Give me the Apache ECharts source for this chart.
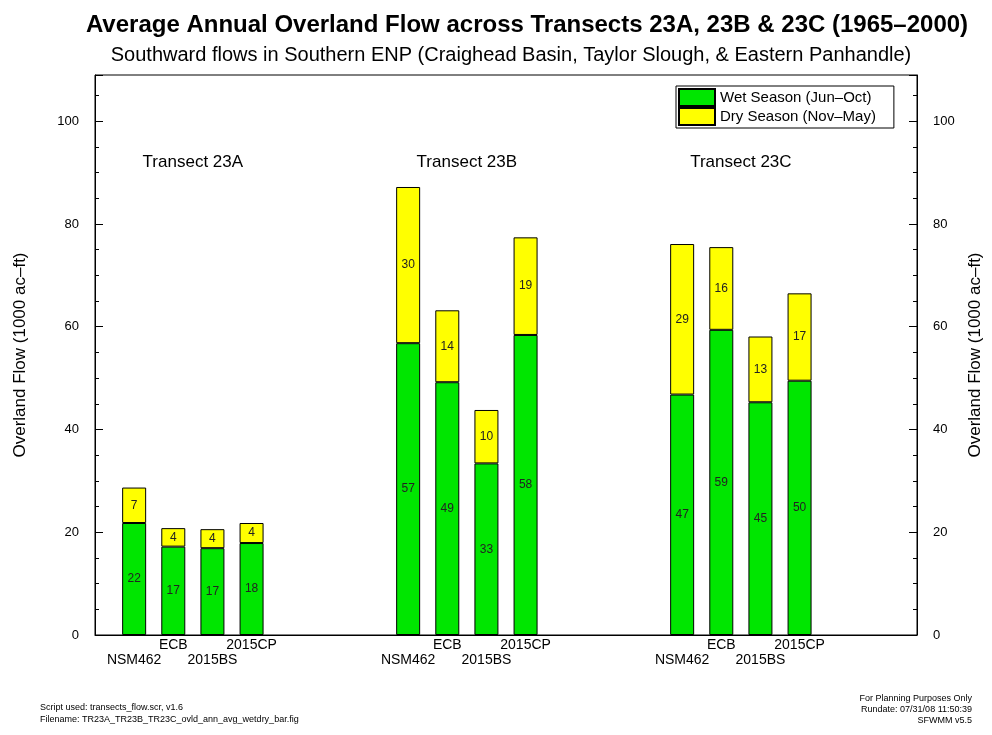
<!DOCTYPE html>
<html>
<head>
<meta charset="utf-8">
<script src="https://cdn.jsdelivr.net/npm/echarts@6/dist/echarts.min.js"></script>
<style>
  html, body { margin: 0; padding: 0; background: #fff; }
  #chart { width: 992px; height: 735px; }
</style>
</head>
<body>
<div id="chart"></div>
<script>
// station names under each bar
const stations = ['NSM462', 'ECB', '2015BS', '2015CP']
const transects = ['Transect 23A', 'Transect 23B', 'Transect 23C']

// average annual flows (1000 ac-ft), per transect, per station
const wet23A = [21.8, 17.2, 16.9, 17.9]
const dry23A = [6.9, 3.6, 3.7, 3.9]
const wet23B = [56.8, 49.2, 33.4, 58.4]
const dry23B = [30.4, 14.0, 10.4, 19.0]
const wet23C = [46.8, 59.4, 45.3, 49.5]
const dry23C = [29.3, 16.1, 12.8, 17.0]

const yTicks = [0, 20, 40, 60, 80, 100]

// slots on the x axis: bars sit at 1-4, 8-11, 15-18
const groupStart = [1, 8, 15]
const slotCount = 22

const slots = Array.from({ length: slotCount }, () => '')
const wetData = Array.from({ length: slotCount }, () => '-')
const dryData = Array.from({ length: slotCount }, () => '-')
const wetGroups = [wet23A, wet23B, wet23C]
const dryGroups = [dry23A, dry23B, dry23C]
groupStart.forEach((s, g) => {
  stations.forEach((name, i) => {
    slots[s + i] = (i % 2 === 0 ? '\n' : '') + name
    wetData[s + i] = wetGroups[g][i]
    dryData[s + i] = dryGroups[g][i]
  })
})

const font = '"Liberation Sans", Arial, sans-serif'

const chart = echarts.init(document.getElementById('chart'))

const yAxisBase = {
  type: 'value',
  min: 0,
  max: 109,
  interval: 20,
  name: 'Overland Flow (1000 ac\u2013ft)',
  nameLocation: 'middle',
  nameTextStyle: { fontSize: 17, color: '#000', fontFamily: font },
  axisLine: { show: true, lineStyle: { color: '#000' } },
  axisTick: { show: true, inside: true, length: 8, lineStyle: { color: '#000' } },
  minorTick: { show: true, splitNumber: 4, length: 4, lineStyle: { color: '#000' } },
  splitLine: { show: false },
  axisLabel: {
    margin: 16,
    fontSize: 13,
    color: '#000',
    fontFamily: font,
    formatter: (v) => (yTicks.includes(v) ? String(v) : ''),
  },
}

const segLabel = {
  show: true,
  position: 'inside',
  fontSize: 12,
  color: '#222',
  fontFamily: font,
  formatter: (p) => Math.round(p.value),
}

chart.setOption({
  animation: false,
  backgroundColor: '#fff',
  title: [
    {
      text: 'Average Annual Overland Flow across Transects 23A, 23B & 23C (1965\u20132000)',
      left: 522,
      top: 8,
      textAlign: 'center',
      textStyle: { fontSize: 24, fontWeight: 'bold', color: '#000', fontFamily: font },
    },
    {
      text: 'Southward flows in Southern ENP (Craighead Basin, Taylor Slough, & Eastern Panhandle)',
      left: 506,
      top: 40,
      textAlign: 'center',
      textStyle: { fontSize: 20, fontWeight: 'normal', color: '#000', fontFamily: font },
    },
  ],
  legend: {
    orient: 'vertical',
    left: 676,
    top: 86,
    padding: [2, 18, 2, 2],
    itemGap: 0,
    itemWidth: 36,
    itemHeight: 17,
    borderColor: '#000',
    borderWidth: 1,
    icon: 'rect',
    textStyle: { fontSize: 15, color: '#000', fontFamily: font },
    data: ['Wet Season (Jun\u2013Oct)', 'Dry Season (Nov\u2013May)'],
  },
  grid: {
    left: 95,
    right: 74,
    top: 75,
    bottom: 100,
    show: true,
    borderColor: '#000',
    borderWidth: 1,
    containLabel: false,
  },
  xAxis: {
    type: 'category',
    boundaryGap: false,
    data: slots,
    axisLine: { lineStyle: { color: '#000' } },
    axisTick: { show: false },
    axisLabel: {
      interval: 0,
      margin: 3,
      fontSize: 14,
      lineHeight: 15,
      color: '#000',
      fontFamily: font,
    },
  },
  yAxis: [
    Object.assign({}, yAxisBase, { position: 'left', nameGap: 66 }),
    Object.assign({}, yAxisBase, { position: 'right', nameGap: 50 }),
  ],
  series: [
    {
      name: 'Wet Season (Jun\u2013Oct)',
      type: 'bar',
      stack: 'flow',
      barWidth: 24,
      itemStyle: { color: '#00e600', borderColor: '#000', borderWidth: 1 },
      label: segLabel,
      data: wetData,
    },
    {
      name: 'Dry Season (Nov\u2013May)',
      type: 'bar',
      stack: 'flow',
      barWidth: 24,
      itemStyle: { color: '#ffff00', borderColor: '#000', borderWidth: 1 },
      label: segLabel,
      data: dryData,
    },
  ],
})

// transect headings centred over each group of bars
const headings = transects.map((t, g) => {
  const a = chart.convertToPixel({ gridIndex: 0 }, [groupStart[g] + 1, 92])
  const b = chart.convertToPixel({ gridIndex: 0 }, [groupStart[g] + 2, 92])
  return {
    type: 'text',
    x: (a[0] + b[0]) / 2,
    y: a[1],
    style: {
      text: t,
      fill: '#000',
      font: '17px ' + font,
      align: 'center',
      verticalAlign: 'middle',
    },
  }
})

const smallFont = '9px ' + font
chart.setOption({
  graphic: headings.concat([
    { type: 'text', left: 40, top: 703, style: { text: 'Script used: transects_flow.scr, v1.6', fill: '#000', font: smallFont } },
    { type: 'text', left: 40, top: 715, style: { text: 'Filename: TR23A_TR23B_TR23C_ovld_ann_avg_wetdry_bar.fig', fill: '#000', font: smallFont } },
    { type: 'text', right: 20, top: 694, style: { text: 'For Planning Purposes Only', fill: '#000', font: smallFont } },
    { type: 'text', right: 20, top: 705, style: { text: 'Rundate: 07/31/08 11:50:39', fill: '#000', font: smallFont } },
    { type: 'text', right: 20, top: 716, style: { text: 'SFWMM v5.5', fill: '#000', font: smallFont } },
  ]),
})
</script>
</body>
</html>
